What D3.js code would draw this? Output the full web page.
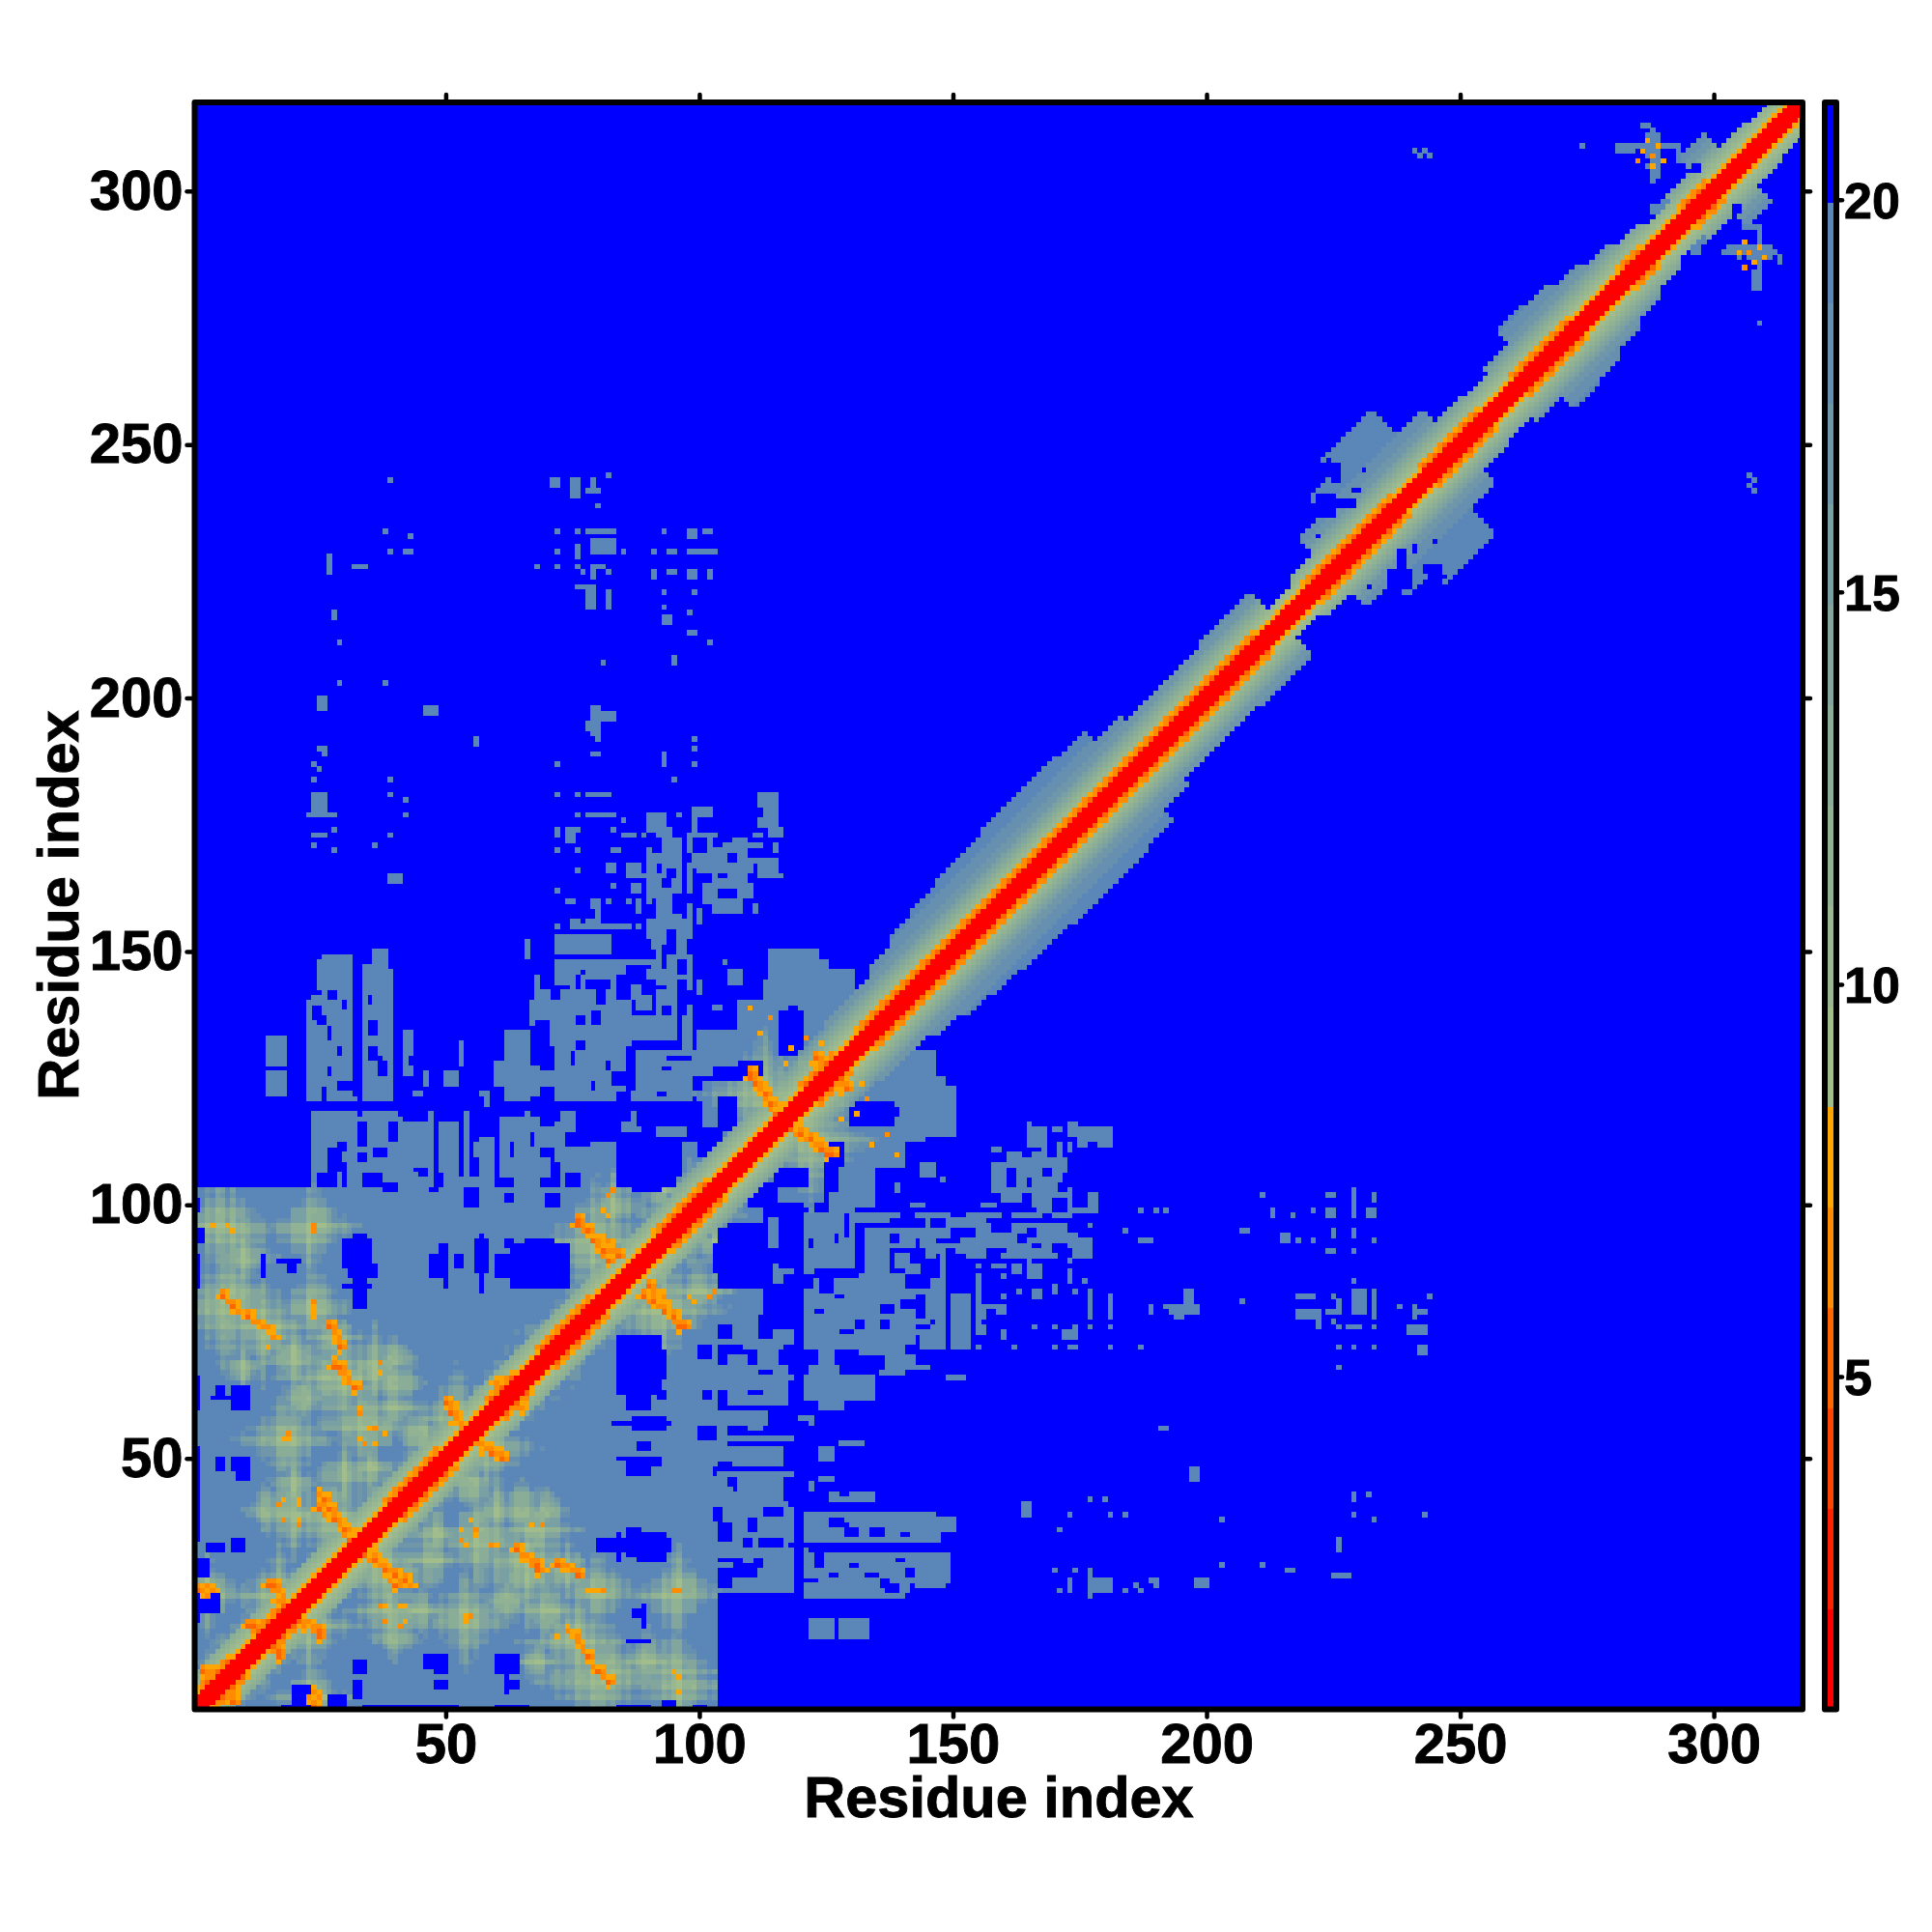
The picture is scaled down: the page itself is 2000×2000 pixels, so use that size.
<!DOCTYPE html>
<html><head><meta charset="utf-8">
<script src="https://cdnjs.cloudflare.com/ajax/libs/d3/7.8.5/d3.min.js"></script>
<style>html,body{margin:0;background:#fff}svg{display:block}text{font-family:"Liberation Sans",Arial,sans-serif;font-weight:700;fill:#000;stroke:#000;stroke-width:0.9px}</style>
</head><body><svg id="c" width="2000" height="2000"></svg>
<script>
// ---------- axis values ----------
const residueCount = 317;
const axisTicks = [50,100,150,200,250,300];
const axisTitle = "Residue index";
const colorbarTicks = [5,10,15,20];
// ---------- colour levels (upper edge of each level, then colour) ----------
const levelBreaks = [2.04,3.32,4.6,5.88,7.16,8.44,9.72,11,12.28,13.56,14.84,16.12,17.4,18.68,19.96];
const levelColors = ["#ff0000","#ff2200","#ff4500","#ff6600","#ff8c00","#ffa500","#a0bd8b","#9ab88f","#92b393","#8aad98","#82a69d","#79a0a3","#7096a9","#678fb0","#5b87b8","#0000ff"];
const barBottom = 0.76, barTop = 21.24;
const emptyValue = 21, patchValue = 19.4;

// ---------- diagonal band: half-width every 5 residues along the diagonal ----------
const bandHalf = [7,7,7,7,7,7,7,7,7,7,7,7,7,7,7,7,7,7,7,7,8,8,8,8,9,10,11,11,13,15,16,17,17,18,18,18,17,13,11,11,11,12,12,5,7,13,19,24,24,14,9,8,10,15,14,12,10,8,6,8,13,7,6,5];
const offsetValue = [1,1,1,6.5,9,10,11,12.5,14,15.5,16.5,17.2,17.8,18.2,18.5,18.7,19,19.2,19.3,19.4,19.4,19.4,19.4,19.4,19.4];
const helixSpans = [[3,9],[14,20],[40,50],[60,65],[70,80],[93,103],[122,128],[133,211],[221,238],[244,255],[262,273],[283,287],[295,300]];

// ---------- grey-blue patches [x0,x1,y0,y1], mirrored about the diagonal ----------
const patchSpans = [
[1,103,1,102],[103,116,21,46],[117,145,34,39],[115,140,23,32],[141,149,26,30],[140,147,33,38],
[102,116,42,43],[103,113,45,46],[103,116,51,52],[103,110,49,50],[100,113,57,59],[99,117,64,68],[103,112,61,62],
[120,134,62,66],[124,128,60,68],[136,140,67,67],[109,116,72,83],[119,139,72,83],
[140,142,73,85],[144,146,72,84],[147,148,72,85],[150,153,72,82],[155,155,76,86],[155,158,80,80],
[120,130,88,98],[114,116,92,97],[147,177,90,95],[133,173,98,98],[135,146,92,94],
[158,160,103,108],[163,170,103,108],[166,168,100,110],[165,168,112,115],[175,176,112,115],[179,181,112,115],
[122,132,100,107],[120,134,100,125],[134,150,114,123],[128,140,108,122],[111,130,128,138],[113,127,138,144],[116,125,144,148],[118,123,148,150],[109,116,119,128],
[103,120,100,128],[135,146,122,130],[130,142,125,135],
// upper-left pillars
[24,32,122,141],[34,39,122,146],[36,38,146,150],[25,25,143,148],[28,31,141,149],[42,43,126,134],
[15,18,128,133],[15,18,122,126],[71,86,132,140],[75,85,139,146],[75,85,120,131],[90,103,122,130],
[91,96,157,177],[90,97,145,156],[93,95,133,145],[107,109,163,172],[103,112,168,168],[105,112,171,171],[113,115,176,179],[104,110,123,132],
[23,41,102,118],[73,83,103,118],[84,88,110,122],[96,102,105,112]
];
// ---------- blue holes [x0,x1,y0,y1], mirrored ----------
const holeSpans = [
[30,35,88,93],[32,34,82,85],[30,35,84,84],[49,49,86,92],[52,53,88,90],[56,58,87,93],[63,74,87,91],[66,71,85,93],[62,63,92,93],
[14,14,88,90],[17,21,89,89],[4,11,62,62],[8,10,60,63],[5,6,48,49],[9,11,46,49],[3,6,32,33],[8,10,32,33],
[84,92,63,74],[86,90,60,62],[83,94,57,57],[84,92,50,50],[86,90,47,49],[80,94,32,34],[86,88,31,36],[90,93,33,35],
[48,50,8,11],[48,50,5,6],[32,34,8,10],[32,33,3,6],[60,64,8,11],[62,64,5,6],[20,23,4,5],[87,89,19,20],[86,90,14,14],
[105,114,84,91],[110,115,100,104],[115,121,104,107],[116,120,88,100],[76,84,113,119],[84,96,106,113],[87,92,103,106],
[116,120,130,137],[118,119,137,139],[103,108,125,127],[130,134,116,119],[136,138,116,120],[126,128,108,112],
[41,72,118,119],[1,23,104,118],[23,88,119,120],[32,33,122,150],[40,41,122,150],[25,28,104,106],[30,30,104,108],[33,34,112,116],
[124,126,84,86],[131,132,76,77],[129,131,73,73],[136,137,76,77],[117,122,84,86],[112,114,74,78],[104,108,70,71],[107,107,53,56],
[107,111,27,29],[109,110,33,34],[104,106,34,37],[113,116,39,40],[116,117,21,22],[133,135,27,27],[121,123,26,26],[126,128,37,38],[134,136,35,36],[118,120,33,33],
[1,1,60,66],[1,1,44,52],[1,1,34,38],[2,3,20,24],[1,3,27,30],[1,1,99,101],[1,2,93,95],[36,44,1,1],[18,24,1,1],[61,66,1,1],[84,90,1,1],
[27,28,141,142],[29,29,130,131],[30,30,139,140],[36,36,135,136],[79,80,136,138],[78,82,143,144],[82,82,127,128],[79,79,123,124],[80,81,140,142],[93,94,127,127],[99,102,125,125],[97,98,129,129],
[91,92,170,172],[95,96,173,176],[91,91,158,160],[95,96,158,161],[93,93,147,150],[94,95,152,154],[90,91,149,152],[96,97,146,148],[93,94,163,164],[92,92,166,167],
[74,75,128,129],[83,84,124,126],[72,73,134,135],[77,78,146,146],[84,85,141,145],[76,76,143,145],[27,27,126,127],[37,37,127,129],[25,26,136,137],[35,35,140,141],
[99,100,123,124],[92,93,122,122],[94,96,129,129],[43,43,128,129],
[112,113,92,94],[104,106,74,76],[104,105,60,62],[108,109,64,65],[112,114,66,67],[106,107,44,46],[110,112,51,51],[104,106,49,49],[129,131,35,36],[123,124,29,31],[137,139,24,25],
[103,107,47,48],[110,116,47,48],[100,104,54,56],[108,116,54,56],[103,108,60,60],[113,117,60,62],[113,116,69,71],[100,102,70,72],[118,134,69,70],[121,124,67,68],[128,134,67,68],
[140,142,98,98],[150,152,98,98],[160,161,98,98],[168,169,98,98],[138,139,93,94],[143,143,92,93],[150,151,93,95],[157,159,90,91],[165,166,94,95],[171,173,90,91],[175,177,94,95],[147,149,90,90],[165,165,104,105],[168,169,106,107],
[103,104,38,40],[110,111,36,38],[101,102,62,63],[111,112,29,30],[128,130,74,75]
];
// ---------- isolated contact specks [x0,x1,y0,y1], mirrored, drawn after the holes ----------
const speckSpans = [
[39,39,243,243],[71,72,242,243],[75,76,240,243],[79,79,241,243],[78,80,241,241],[82,82,244,244],[80,80,238,238],
[38,38,233,233],[43,43,232,232],[39,39,229,229],[42,43,229,229],[72,72,233,233],[76,76,233,233],[78,83,233,233],[79,83,229,231],[76,76,228,230],[72,72,229,229],[85,85,229,229],[91,91,229,229],[94,95,229,229],[98,103,229,229],[93,93,233,233],[98,99,232,233],[101,102,233,233],
[68,68,226,226],[72,72,226,226],[76,76,226,226],[77,77,225,225],[79,79,224,226],[80,81,226,226],[82,82,225,225],[91,91,224,225],[94,95,225,225],[98,99,224,225],[102,102,224,225],
[76,79,222,222],[78,79,218,221],[82,82,218,221],[93,93,221,221],[99,99,221,221],[93,93,218,218],[98,98,217,217],[98,99,213,213],[102,102,211,211],[95,95,207,208],[81,81,207,207],
[28,28,216,217],[29,29,211,211],[29,29,203,203],[38,38,203,203],[25,26,198,200],[79,80,193,198],[81,83,196,197],[78,79,194,195],[80,80,192,192],
[25,26,190,190],[24,24,187,187],[24,24,184,184],[39,39,184,184],[79,80,189,189],[93,93,187,189],[99,99,192,192],[99,99,190,190],[99,99,187,187],[72,72,187,187],[95,95,184,184],
[24,26,178,181],[23,28,177,177],[24,26,173,173],[28,28,174,174],[24,24,171,171],[28,28,170,170],[39,39,181,181],[42,42,180,180],[42,42,177,177],[39,39,173,173],
[72,72,181,181],[76,76,181,181],[78,82,181,181],[76,76,177,177],[78,83,177,177],[72,72,173,174],[74,75,172,174],[76,76,174,174],[83,83,174,174],[85,87,173,173],[89,89,173,173],[85,85,176,176],
[72,72,170,170],[76,76,170,170],[83,84,170,170],[76,76,166,166],[82,83,166,167],[86,88,165,167],[89,91,165,165],[87,88,162,163],[83,83,163,163],[72,72,162,162],[74,75,160,160],[79,80,159,160],[82,82,160,160],[86,86,160,160],[88,88,158,160],
[72,72,155,155],[75,76,155,156],[78,80,155,156],[82,86,155,155],[88,88,155,155],[75,77,151,153],[79,82,152,153],[91,91,151,152],[72,72,148,148],[75,90,148,148],[89,89,148,148],
[99,102,177,178],[99,99,174,176],[98,103,173,173],[99,102,167,169],[98,98,163,166],[103,103,168,170],[101,103,160,163],[105,108,160,160],[108,110,161,163],[103,106,158,158],[100,100,156,158],
[102,102,170,172],[105,105,170,171],[109,109,172,172],[111,112,173,173],[114,116,173,174],[115,115,170,171],[114,114,165,165],[116,116,165,165],[108,108,158,158],[111,111,158,159],
[68,70,137,142],[68,68,143,145],[72,74,128,135],[66,72,124,126],[62,68,122,123],[60,62,125,126],[65,66,127,130],[46,46,124,126],[44,45,122,122],[50,52,124,126],[53,53,128,132],[57,58,122,122],[63,63,130,130],
[87,94,133,137],[88,90,139,141],[87,88,141,143],[97,98,130,137],[100,104,131,133],[100,100,142,144],[103,104,139,139],[105,105,148,148],[106,108,144,146],
[42,46,112,116],[47,47,104,118],[49,52,108,116],[54,54,104,118],[56,59,110,112],[61,65,113,117],[63,70,106,109],[66,66,104,118],[68,71,112,115],[42,44,103,106],[50,56,104,105],[57,60,103,103],[64,67,102,103],
[149,152,66,66],[120,122,58,58],[124,126,60,60],[146,148,78,80],
[164,165,39,41],[171,171,36,36],[226,226,32,34],[225,228,27,27],
[186,186,25,25],[189,190,26,26],[197,198,46,48],[191,192,56,56],[215,216,93,94],
[243,243,308,308],[241,241,308,308],[274,274,309,309],
[281,286,309,309],[281,284,308,308],[290,293,309,309],[293,293,306,308],[286,287,313,313],[288,288,310,312],[287,289,307,311],[288,289,303,306],[287,288,305,305],[288,288,302,302],[288,291,296,297],[290,291,298,298],[307,307,244,244],[307,307,242,242]
];
// ---------- contact strokes [x0,y0,x1,y1] and single hot spots [x,y], mirrored ----------
const strokes = [[6,82,9,79],[11,78,16,74],[28,68,32,64],[51,60,53,55],[55,53,61,50],[25,40,31,35],[34,31,43,25],[64,32,69,28],[72,29,76,27],[76,96,84,90],[89,82,97,76],[110,125,116,118],[118,115,126,110],[15,25,18,21],[21,18,25,16],[11,17,17,12],[3,8,8,2],[1,24,4,24],[123,128,129,123],[60,65,65,60]];
const hotSpots = [[24,96],[4,96],[7,96],[24,81],[24,79],[28,73],[37,69],[37,67],[33,60],[36,56],[38,55],[33,54],[34,53],[18,54],[19,54],[17,41],[21,41],[18,38],[21,37],[38,21],[42,21],[38,18],[42,18],[54,19],[55,19],[53,36],[56,35],[59,33],[72,15],[75,15],[83,103],[81,99],[98,82],[102,82],[78,24],[80,24],[95,24],[95,8],[23,2],[23,3],[112,134],[117,128],[121,133],[124,132],[131,118],[137,114],[139,110],[286,308],[288,307],[289,309],[287,310],[285,306],[288,305],[290,306]];
// ---------- haze centres [x,y,radius], mirrored ----------
const hazes = [[7,80,16],[14,76,13],[24,80,10],[29,66,15],[36,68,10],[34,57,13],[18.6,54,12],[52,58,12],[58,52,12],[24,96,10],[5,96,11],[80,93,14],[92,79,14],[62,62,11],[75,75,12],[44,44,13],[28,38,14],[38,28,14],[19,40,9],[39,20,10],[54,19,10],[56,34,11],[66,30,12],[74,28,8],[74,15,8],[82,8,12],[95,23,10],[95,8,11],[80,23,7],[17,23,12],[23,17,11],[14,15,11],[4,5,10],[3,24,9],[23,3,9],[85,85,12],[98,98,13],[113,122,14],[122,112,14],[126,126,12],[100,83,8],[103,92,7],[120,120,15],[110,110,11],[54,54,10],[34,34,11],[67,67,10],[24,24,10],[106,106,10],
[10,90,9],[20,70,9],[40,65,8],[45,55,8],[30,47,8],[15,40,7],[48,35,7],[45,20,7],[62,22,7],[60,40,7],[70,40,6],[68,10,6],[90,10,6]];
// shade of each residue that gives the haze its woven look (1..120)
const residueShade = [0,1,-1,1,0,-1,1,0,1,-1,0,1,0,-1,1,1,-1,0,1,-1,0,1,-1,1,0,-1,0,1,1,-1,0,1,-1,1,0,-1,1,0,-1,1,1,0,-1,0,1,-1,1,0,-1,1,0,1,-1,0,1,-1,1,0,1,-1,0,1,0,-1,1,-1,0,1,-1,1,0,-1,1,0,1,-1,0,1,-1,1,0,1,-1,0,1,-1,1,0,-1,1,0,1,-1,1,0,-1,1,0,-1,1,0,1,-1,0,1,-1,1,0,-1,1,0,1,-1,0,1,-1,1,0,1,-1];
// rough blue bites taken out of the band edge, applied last, mirrored
const bandHoles = [[222,225,236,240],[225,226,243,246],[226,229,238,239],[224,224,245,247],[222,222,232,232],[229,230,241,241],[231,231,245,245],[296,297,304,305]];

// ---------- build the matrix from the tables ----------
const M = Array.from({length:residueCount+1},()=>new Float32Array(residueCount+1).fill(emptyValue));
function setBoth(x,y,v){ if(x<1||y<1||x>residueCount||y>residueCount) return; M[y][x]=v; M[x][y]=v; }
function fillSpans(list,v){ list.forEach(([a,b,c,d])=>{ for(let x=a;x<=b;x++)for(let y=c;y<=d;y++)setBoth(x,y,v);}); }
fillSpans(patchSpans,patchValue);
for(let y=1;y<=150;y++)for(let x=1;x<=150;x++){
  if(M[y][x]>=20) continue;
  let best=patchValue;
  for(const [gx,gy,r] of hazes){
    for(const [px,py] of [[gx,gy],[gy,gx]]){
      const dx=Math.abs(x-px),dy=Math.abs(y-py);
      const q=Math.pow(Math.pow(dx,0.75)+Math.pow(dy,0.75),1/0.75)/r;
      if(q<1) best=Math.min(best,9.2+10.2*q);
    }
  }
  if(best<patchValue) best=Math.min(patchValue,best+1.1*((residueShade[x-1]||0)+(residueShade[y-1]||0)));
  M[y][x]=Math.max(best,8.6);
}
for(let y=1;y<=residueCount;y++)for(let x=1;x<y;x++){M[x][y]=M[y][x]=Math.min(M[y][x],M[x][y]);}
fillSpans(holeSpans,emptyValue);
fillSpans(speckSpans,patchValue);
strokes.forEach(([x0,y0,x1,y1])=>{
  const n=Math.max(Math.abs(x1-x0),Math.abs(y1-y0));
  for(let i=0;i<=n;i++){
    const x=Math.round(x0+(x1-x0)*i/n),y=Math.round(y0+(y1-y0)*i/n);
    setBoth(x,y,i%2?6.5:5.2);setBoth(x+1,y,i%2?7.8:6.5);setBoth(x,y+1,i%2?7.8:6.5);
    if(i%2==0) setBoth(x+1,y+1,7.8);
    if(i%3==0) setBoth(x-1,y,7.8);
  }
});
hotSpots.forEach(([x,y],i)=>setBoth(x,y,i%3==0?6.5:7.8));
const inHelix=m=>helixSpans.some(([a,b])=>m>=a&&m<=b);
for(let y=1;y<=residueCount;y++)for(let x=1;x<=residueCount;x++){
  const d=Math.abs(x-y),m=(x+y)/2,h=bandHalf[Math.min(bandHalf.length-1,Math.floor(m/5))];
  if(d>h) continue;
  let v=offsetValue[d];
  if(d==3) v=inHelix(m)?(((x+y)%4==1)?5.2:6.5):7.8;
  if(d==4&&inHelix(m)) v=((x+y)%4==0)?6.5:7.8;
  if(v<M[y][x]) M[y][x]=v;
}
fillSpans(bandHoles,emptyValue);
const cells=[];
for(let y=1;y<=residueCount;y++)for(let x=1;x<=residueCount;x++) if(M[y][x]<19.96) cells.push({x,y,v:M[y][x]});

// ---------- draw ----------
const L=201.5,R=1866,T=106,B=1769.5;
const xS=d3.scaleLinear().domain([0.5,residueCount+0.5]).range([L,R]);
const yS=d3.scaleLinear().domain([0.5,residueCount+0.5]).range([B,T]);
const color=d3.scaleThreshold().domain(levelBreaks).range(levelColors);
const svg=d3.select("#c");
svg.append("rect").attr("x",L).attr("y",T).attr("width",R-L).attr("height",B-T).attr("fill",color(emptyValue));
svg.append("g").attr("shape-rendering","crispEdges").selectAll("rect").data(cells).join("rect")
 .attr("x",d=>xS(d.x-0.5)).attr("y",d=>yS(d.y+0.5))
 .attr("width",d=>xS(d.x+0.5)-xS(d.x-0.5)+0.5).attr("height",d=>yS(d.y-0.5)-yS(d.y+0.5)+0.5)
 .attr("fill",d=>color(d.v));
function styleAxis(g,fs){
  g.select(".domain").remove();
  g.selectAll("line").attr("stroke","#000").attr("stroke-width",4.5).attr("stroke-linecap","round");
  g.selectAll("text").style("font-size",fs+"px");
}
const fmt=d3.format("d");
svg.append("g").attr("transform",`translate(0,${B})`).call(d3.axisBottom(xS).tickValues(axisTicks).tickFormat(fmt).tickSize(8).tickPadding(6)).call(g=>styleAxis(g,58));
svg.append("g").attr("transform",`translate(${L},0)`).call(d3.axisLeft(yS).tickValues(axisTicks).tickFormat(fmt).tickSize(8).tickPadding(4)).call(g=>styleAxis(g,58));
svg.append("g").attr("transform",`translate(0,${T})`).call(d3.axisTop(xS).tickValues(axisTicks).tickFormat("").tickSize(8)).call(g=>styleAxis(g,58));
svg.append("g").attr("transform",`translate(${R},0)`).call(d3.axisRight(yS).tickValues(axisTicks).tickFormat("").tickSize(8)).call(g=>styleAxis(g,58));
svg.append("rect").attr("x",L).attr("y",T).attr("width",R-L).attr("height",B-T).attr("fill","none").attr("stroke","#000").attr("stroke-width",6).attr("stroke-linejoin","round");
svg.append("text").attr("x",1034).attr("y",1881).attr("text-anchor","middle").style("font-size","59.5px").text(axisTitle);
svg.append("text").attr("transform","translate(81,937) rotate(-90)").attr("text-anchor","middle").style("font-size","59.5px").text(axisTitle);
// colour bar
const bx0=1889,bx1=1901;
const cS=d3.scaleLinear().domain([barBottom,barTop]).range([B,T]);
const edges=[barBottom,...levelBreaks,barTop];
svg.append("g").attr("shape-rendering","crispEdges").selectAll("rect").data(levelColors).join("rect")
 .attr("x",bx0).attr("width",bx1-bx0).attr("y",(d,i)=>cS(edges[i+1])).attr("height",(d,i)=>cS(edges[i])-cS(edges[i+1])+0.5).attr("fill",d=>d);
svg.append("rect").attr("x",bx0).attr("y",T).attr("width",bx1-bx0).attr("height",B-T).attr("fill","none").attr("stroke","#000").attr("stroke-width",6).attr("stroke-linejoin","round");
svg.append("g").attr("transform",`translate(${bx1},0)`).call(d3.axisRight(cS).tickValues(colorbarTicks).tickFormat(fmt).tickSize(6).tickPadding(2)).call(g=>{styleAxis(g,52);g.selectAll("text").attr("dy","0.36em");});
</script></body></html>
